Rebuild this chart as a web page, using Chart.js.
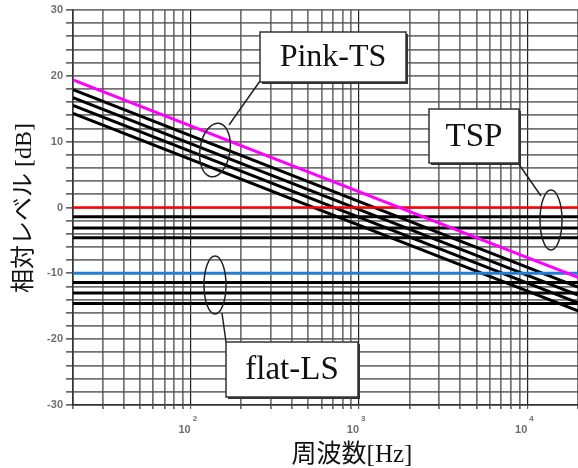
<!DOCTYPE html>
<html>
<head>
<meta charset="utf-8">
<script src="https://cdn.jsdelivr.net/npm/chart.js@4.4.0/dist/chart.umd.min.js"></script>
<style>
html, body { margin: 0; padding: 0; background: #fff; }
#wrap { width: 578px; height: 468px; }
</style>
</head>
<body>
<div id="wrap"><canvas id="chart" width="578" height="468"></canvas></div>
<script>
// === data ===
const freqs = [20, 20000];
const pinkTS = [19.4, -10.6];
const pinkBlack1 = [17.9, -12.1];
const pinkBlack2 = [16.7, -13.3];
const pinkBlack3 = [15.5, -14.5];
const pinkBlack4 = [14.3, -15.7];
const tspRed = [0, 0];
const tspBlack1 = [-1.4, -1.4];
const tspBlack2 = [-3.1, -3.1];
const tspBlack3 = [-4.6, -4.6];
const flatBlue = [-10, -10];
const flatBlack1 = [-11.4, -11.4];
const flatBlack2 = [-13.0, -13.0];
const flatBlack3 = [-14.6, -14.6];

const xGridVals = [20, 30, 40, 50, 60, 70, 80, 90, 100, 200, 300, 400, 500, 600, 700, 800, 900,
    1000, 2000, 3000, 4000, 5000, 6000, 7000, 8000, 9000, 10000, 20000];
const xLabelVals = [100, 1000, 10000];
const xLabelExp = ["2", "3", "4"];
const yLabelVals = [30, 20, 10, 0, -10, -20, -30];

function pts(arr) {
    return freqs.map((f, i) => ({ x: f, y: arr[i] }));
}

function line(arr, color, w) {
    return { data: pts(arr), borderColor: color, borderWidth: w, pointRadius: 0, tension: 0, fill: false };
}

const isDecade = v => Math.abs(Math.log10(v) - Math.round(Math.log10(v))) < 1e-9;

// callout boxes, leaders and loops (annotations)
function box(c, x, y, w, h, text, fs) {
    c.fillStyle = '#333';
    c.fillRect(x + 2, y + 2, w, h);
    c.fillStyle = '#fff';
    c.fillRect(x, y, w, h);
    c.strokeStyle = '#333';
    c.lineWidth = 1.5;
    c.strokeRect(x, y, w, h);
    c.fillStyle = '#111';
    c.font = fs + 'px "Liberation Serif", "DejaVu Serif", serif';
    c.textAlign = 'center';
    c.textBaseline = 'middle';
    c.fillText(text, x + w / 2, y + h / 2 + 1);
}

const annotations = {
    id: 'annotations',
    afterDatasetsDraw(chart) {
        const c = chart.ctx;
        c.save();
        c.strokeStyle = '#222';
        c.lineWidth = 1.5;
        // loops
        c.beginPath(); c.ellipse(215, 150, 15, 27, 0.15, 0, Math.PI * 2); c.stroke();
        c.beginPath(); c.ellipse(551, 220, 11, 30, 0, 0, Math.PI * 2); c.stroke();
        c.beginPath(); c.ellipse(215, 285, 11, 29, 0, 0, Math.PI * 2); c.stroke();
        // leaders
        c.beginPath(); c.moveTo(260, 81); c.lineTo(229, 125); c.stroke();
        c.beginPath(); c.moveTo(518, 163); c.lineTo(541, 196); c.stroke();
        c.beginPath(); c.moveTo(226, 342); c.lineTo(222, 313); c.stroke();

        box(c, 260, 32, 146, 50, 'Pink-TS', 32);
        box(c, 429, 109, 90, 54, 'TSP', 33);
        box(c, 226, 342, 132, 55, 'flat-LS', 33);

        // x tick labels 10^n
        const xs = chart.scales.x;
        c.fillStyle = '#6f6f6f';
        c.textBaseline = 'alphabetic';
        xLabelVals.forEach((v, i) => {
            const px = xs.getPixelForValue(v);
            c.font = 'bold 11px "Liberation Sans", Arial, sans-serif';
            c.textAlign = 'right';
            c.fillText('10', px, 433);
            c.font = 'bold 8px "Liberation Sans", Arial, sans-serif';
            c.textAlign = 'left';
            c.fillText(xLabelExp[i], px + 2, 421);
        });

        // axis titles
        c.fillStyle = '#111';
        c.font = '25px "Liberation Serif", "Noto Sans CJK JP", serif';
        c.textAlign = 'center';
        c.textBaseline = 'alphabetic';
        c.fillText('周波数[Hz]', 352, 462);

        c.translate(25, 208);
        c.rotate(-Math.PI / 2);
        c.textBaseline = 'middle';
        c.font = '24px "Liberation Serif", "Noto Sans CJK JP", serif';
        c.fillText('相対レベル [dB]', 0, 0);
        c.restore();
    }
};

const ctx = document.getElementById('chart').getContext('2d');
new Chart(ctx, {
    type: 'line',
    data: {
        datasets: [
            line(pinkTS, '#ff00ff', 3),
            line(tspRed, '#ff0000', 2.5),
            line(flatBlue, '#1f7fd6', 3),
            line(pinkBlack1, '#000', 3),
            line(pinkBlack2, '#000', 3),
            line(pinkBlack3, '#000', 3),
            line(pinkBlack4, '#000', 3),
            line(tspBlack1, '#000', 3),
            line(tspBlack2, '#000', 3),
            line(tspBlack3, '#000', 3),
            line(flatBlack1, '#000', 3),
            line(flatBlack2, '#000', 3),
            line(flatBlack3, '#000', 3),
        ]
    },
    options: {
        responsive: false,
        animation: false,
        devicePixelRatio: 1,
        layout: { padding: { top: 10, right: 0, left: 0, bottom: 0 } },
        plugins: { legend: { display: false }, tooltip: { enabled: false } },
        scales: {
            x: {
                type: 'logarithmic',
                min: 20,
                max: 20000,
                afterBuildTicks: s => { s.ticks = xGridVals.map(v => ({ value: v })); },
                afterFit: s => { s.height = 63; },
                ticks: { display: false },
                grid: {
                    color: c => isDecade(c.tick.value) ? '#222' : 'rgba(80,80,80,0.8)',
                    lineWidth: c => isDecade(c.tick.value) ? 1.2 : 1.7,
                    tickLength: 4,
                    tickColor: '#666'
                },
                border: { display: true, color: '#333', width: 1.5 }
            },
            y: {
                min: -30,
                max: 30,
                afterFit: s => { s.width = 73; },
                ticks: {
                    stepSize: 2,
                    autoSkip: false,
                    padding: 3,
                    color: '#6f6f6f',
                    font: { family: '"Liberation Sans", Arial, sans-serif', size: 11, weight: 'bold' },
                    callback: v => yLabelVals.includes(v) ? String(v) : ''
                },
                grid: {
                    color: 'rgba(80,80,80,0.8)',
                    lineWidth: 1.7,
                    tickLength: 7,
                    tickColor: '#666'
                },
                border: { display: true, color: '#333', width: 1.5 }
            }
        }
    },
    plugins: [annotations]
});
</script>
</body>
</html>
